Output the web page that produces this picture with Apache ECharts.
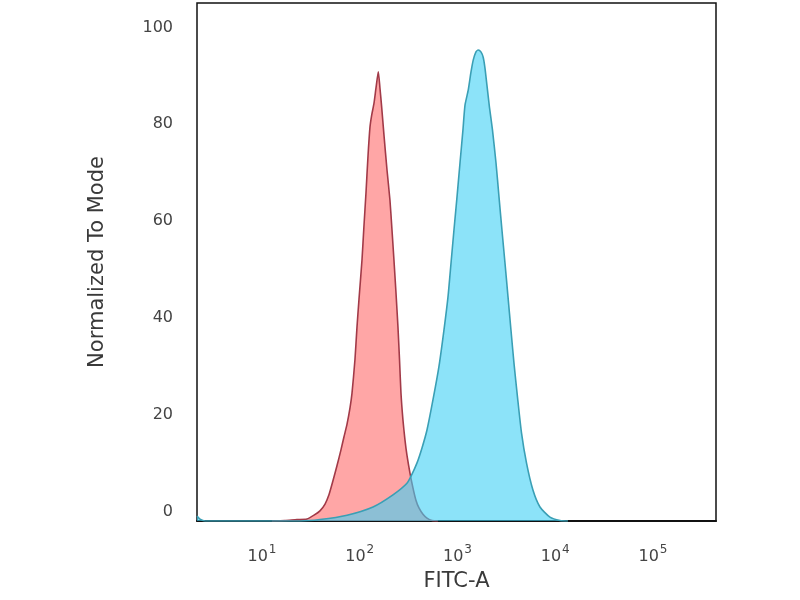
<!DOCTYPE html>
<html>
<head>
<meta charset="utf-8">
<script src="https://cdn.jsdelivr.net/npm/echarts@6/dist/echarts.min.js"></script>
<style>html,body{margin:0;padding:0;background:#fff}#c{width:800px;height:600px}</style>
</head>
<body>
<div id="c"></div>
<script>
// FITC-A intensity as log10 values, and % of mode
const redLog = [1.102,1.235,1.358,1.460,1.532,1.593,1.645,1.685,1.726,1.767,1.808,1.839,1.870,1.900,1.921,1.951,1.972,1.992,2.023,2.043,2.064,2.084,2.105,2.122,2.146,2.166,2.190,2.207,2.224,2.248,2.279,2.309,2.330,2.350,2.371,2.391,2.407,2.422,2.442,2.463,2.483,2.514,2.545,2.575,2.606,2.647,2.688,2.739,2.800];
const redMode = [0,0.1,0.3,0.4,1.2,2.1,3.5,5.4,8.3,11.4,14.7,17.4,20.0,23.3,26.4,33.3,40.1,45.7,53.9,60.9,67.8,75.2,81.4,83.8,86.3,89.4,92.8,89.4,85.6,79.7,72.5,66.3,60.1,53.9,47.1,40.1,33.3,26.4,20.9,16.7,13.6,9.9,6.8,4.3,2.7,1.4,0.6,0.1,0];
const cyanLog = [0.335,0.366,0.417,1.389,1.593,1.870,2.136,2.340,2.483,2.535,2.586,2.637,2.688,2.749,2.811,2.862,2.903,2.934,2.964,2.995,3.026,3.056,3.077,3.110,3.138,3.161,3.189,3.212,3.240,3.263,3.281,3.301,3.327,3.358,3.394,3.425,3.455,3.486,3.517,3.547,3.578,3.614,3.655,3.706,3.772,3.844,3.946,4.049,4.130];
const cyanMode = [1.0,0.4,0,0,0.3,1.2,2.9,5.4,7.8,9.7,12.0,15.1,18.8,25.0,32.0,39.5,46.3,53.3,60.1,66.9,74.0,80.8,85.9,89.0,92.7,95.2,96.9,97.3,96.9,95.8,93.6,90.1,85.5,80.8,74.0,66.9,60.1,53.3,46.3,39.5,32.6,25.6,18.2,12.0,6.4,2.9,0.8,0.1,0];
const xTickExponents = [1,2,3,4,5];
const yTickValues = [0,20,40,60,80,100];

const pair = (xs, ys) => xs.map((x, i) => [x, ys[i]]);
const chart = echarts.init(document.getElementById('c'), null, {renderer: 'canvas'});
const font = 'DejaVu Sans';
chart.setOption({
  animation: false,
  backgroundColor: '#fff',
  grid: {left: 197, right: 84, top: 3, bottom: 79, show: true, borderColor: '#111', borderWidth: 1.5, containLabel: false},
  xAxis: {
    type: 'value', min: 0.335, max: 5.645,
    name: 'FITC-A', nameLocation: 'middle', nameGap: 50,
    nameTextStyle: {fontFamily: font, fontSize: 21, color: '#3a3a3a'},
    axisLine: {show: true, lineStyle: {color: '#111', width: 2}},
    axisTick: {show: false}, splitLine: {show: false},
    axisLabel: {
      customValues: xTickExponents, margin: 20,
      formatter: v => '{b|10}{s|' + v + '}',
      rich: {
        b: {fontFamily: font, fontSize: 16, color: '#444', padding: [8, 0, 0, 0]},
        s: {fontFamily: font, fontSize: 12, color: '#444', padding: [0, 0, 6, 1]}
      }
    }
  },
  yAxis: {
    type: 'value', min: 0, max: 107,
    name: 'Normalized To Mode', nameLocation: 'middle', nameGap: 89,
    nameTextStyle: {fontFamily: font, fontSize: 21, color: '#3a3a3a'},
    axisLine: {show: false}, axisTick: {show: false}, splitLine: {show: false},
    axisLabel: {customValues: yTickValues, margin: 24, verticalAlign: 'bottom', lineHeight: 19,
      fontFamily: font, fontSize: 16, color: '#444'}
  },
  series: [
    {
      type: 'line', data: pair(redLog, redMode), smooth: 0.2, showSymbol: false,
      lineStyle: {color: '#a23a48', width: 1.6},
      areaStyle: {color: '#ff6b6b', opacity: 0.6}, z: 2
    },
    {
      type: 'line', data: pair(cyanLog, cyanMode), smooth: 0.2, showSymbol: false,
      lineStyle: {color: '#3a9fb5', width: 1.6},
      areaStyle: {color: '#3fd0f5', opacity: 0.6}, z: 3
    }
  ]
});
</script>
</body>
</html>
